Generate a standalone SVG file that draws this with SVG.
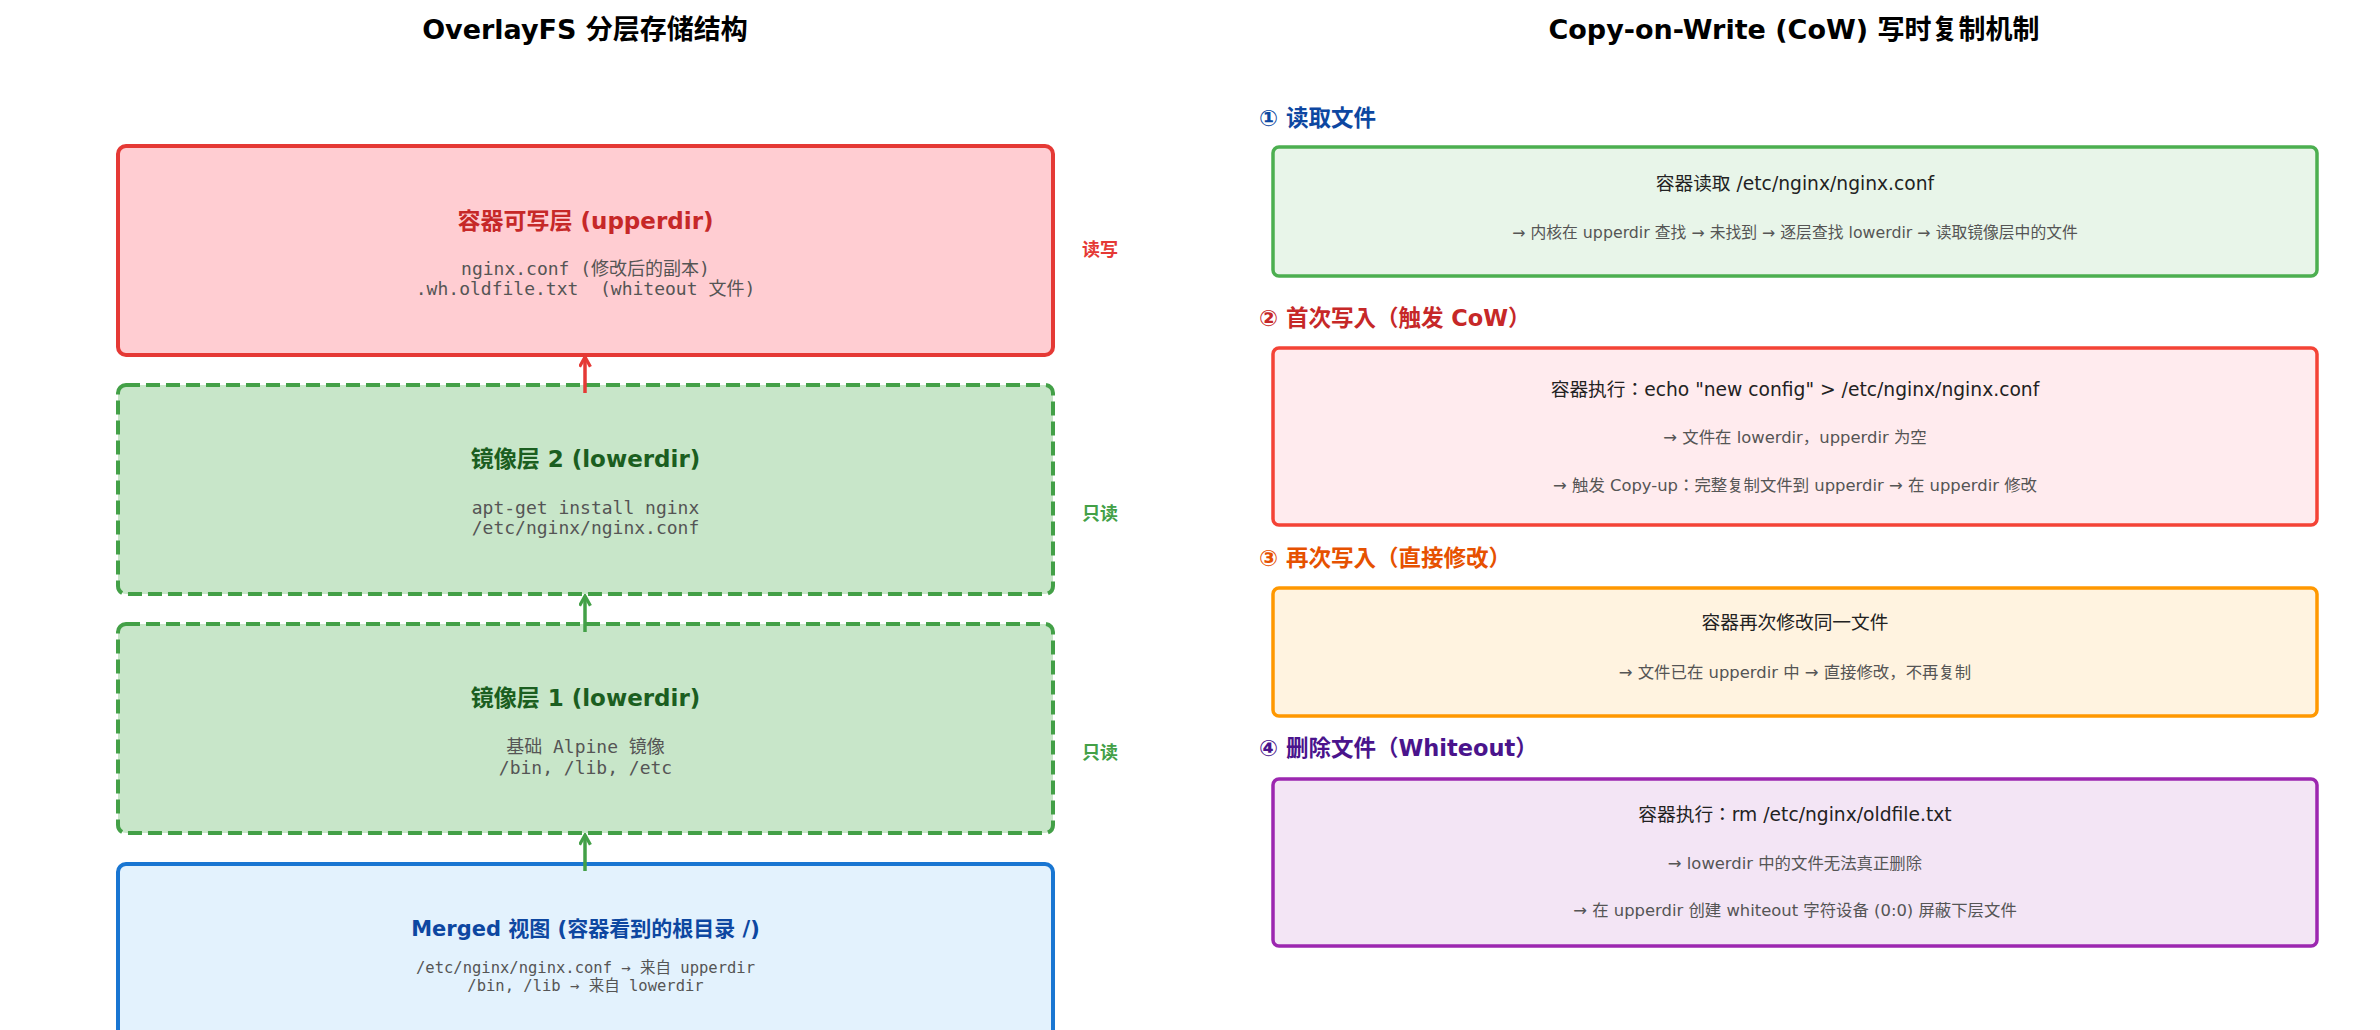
<svg xmlns="http://www.w3.org/2000/svg" width="2380" height="1030" viewBox="0 0 2380 1030">
<style>
text{font-family:"DejaVu Sans","Noto Sans CJK JP",sans-serif;text-anchor:middle;dominant-baseline:central}
.title{font-size:27px;font-weight:bold;fill:#000}
.lt{font-size:23px;font-weight:bold}
.lt2{font-size:21px;font-weight:bold}
.mono{font-family:"DejaVu Sans Mono","Noto Sans CJK JP",monospace;font-size:18px;fill:#555}
.mono2{font-family:"DejaVu Sans Mono","Noto Sans CJK JP",monospace;font-size:15.5px;fill:#555}
.side{font-size:18px;font-weight:bold;text-anchor:start}
.hd{font-size:22.5px;font-weight:bold;text-anchor:start}
.main{font-size:18.7px;fill:#222}
.sub{font-size:16.4px;fill:#555}
.lbox{stroke-width:4}
.rbox{stroke-width:3.5}
.dash{stroke-dasharray:14 6}
</style>
<defs>
<marker id="arR" viewBox="0 0 12 12" refX="10" refY="6" markerWidth="13" markerHeight="13" markerUnits="userSpaceOnUse" orient="auto">
<path d="M1,1 L10,6 L1,11" fill="none" stroke="#E53935" stroke-width="3"/>
</marker>
<marker id="arG" viewBox="0 0 12 12" refX="10" refY="6" markerWidth="13" markerHeight="13" markerUnits="userSpaceOnUse" orient="auto">
<path d="M1,1 L10,6 L1,11" fill="none" stroke="#43A047" stroke-width="3"/>
</marker>
</defs>
<rect width="2380" height="1030" fill="#fff"/>
<text class="title" x="585" y="29">OverlayFS 分层存储结构</text>
<text class="title" x="1794" y="29">Copy-on-Write (CoW) 写时复制机制</text>

<g id="upperdir">
<rect class="lbox" x="118" y="146" width="935" height="209" rx="8" fill="#FFCDD2" stroke="#E53935"/>
<text class="lt" x="585.5" y="221" fill="#C62828">容器可写层 (upperdir)</text>
<text class="mono" x="585.5" y="268">nginx.conf (修改后的副本)</text>
<text class="mono" x="585.5" y="288" xml:space="preserve">.wh.oldfile.txt  (whiteout 文件)</text>
<text class="side" x="1082" y="249" fill="#E53935">读写</text>
</g>
<g id="lower2">
<rect class="lbox dash" x="118" y="385" width="935" height="209" rx="8" fill="#C8E6C9" stroke="#43A047"/>
<text class="lt" x="585.5" y="459" fill="#1B5E20">镜像层 2 (lowerdir)</text>
<text class="mono" x="585.5" y="507">apt-get install nginx</text>
<text class="mono" x="585.5" y="527">/etc/nginx/nginx.conf</text>
<text class="side" x="1082" y="513" fill="#43A047">只读</text>
</g>
<g id="lower1">
<rect class="lbox dash" x="118" y="624" width="935" height="209" rx="8" fill="#C8E6C9" stroke="#43A047"/>
<text class="lt" x="585.5" y="698" fill="#1B5E20">镜像层 1 (lowerdir)</text>
<text class="mono" x="585.5" y="746">基础 Alpine 镜像</text>
<text class="mono" x="585.5" y="767">/bin, /lib, /etc</text>
<text class="side" x="1082" y="752" fill="#43A047">只读</text>
</g>
<g id="merged">
<rect class="lbox" x="118" y="864" width="935" height="209" rx="8" fill="#E3F2FD" stroke="#1976D2"/>
<text class="lt2" x="585.5" y="929" fill="#0D47A1">Merged 视图 (容器看到的根目录 /)</text>
<text class="mono2" x="585.5" y="968">/etc/nginx/nginx.conf → 来自 upperdir</text>
<text class="mono2" x="585.5" y="986">/bin, /lib → 来自 lowerdir</text>
</g>

<g id="connectors" fill="none" stroke-width="3.5">
<line x1="585" y1="393" x2="585" y2="357" stroke="#E53935" marker-end="url(#arR)"/>
<line x1="585" y1="632" x2="585" y2="596" stroke="#43A047" marker-end="url(#arG)"/>
<line x1="585" y1="871" x2="585" y2="835" stroke="#43A047" marker-end="url(#arG)"/>
</g>

<g id="step1">
<text class="hd" x="1259" y="118" fill="#0D47A1">① 读取文件</text>
<rect class="rbox" x="1273" y="147" width="1044" height="129" rx="6" fill="#E8F5E9" stroke="#4CAF50"/>
<text class="main" x="1795" y="183">容器读取 /etc/nginx/nginx.conf</text>
<text class="sub" x="1795" y="232" style="font-size:15.8px">→ 内核在 upperdir 查找 → 未找到 → 逐层查找 lowerdir → 读取镜像层中的文件</text>
</g>
<g id="step2">
<text class="hd" x="1259" y="318" fill="#C62828">② 首次写入（触发 CoW）</text>
<rect class="rbox" x="1273" y="348" width="1044" height="177" rx="6" fill="#FFEBEE" stroke="#F44336"/>
<text class="main" x="1795" y="389">容器执行：echo "new config" &gt; /etc/nginx/nginx.conf</text>
<text class="sub" x="1795" y="437">→ 文件在 lowerdir，upperdir 为空</text>
<text class="sub" x="1795" y="485">→ 触发 Copy-up：完整复制文件到 upperdir → 在 upperdir 修改</text>
</g>
<g id="step3">
<text class="hd" x="1259" y="558" fill="#E65100">③ 再次写入（直接修改）</text>
<rect class="rbox" x="1273" y="588" width="1044" height="128" rx="6" fill="#FFF3E0" stroke="#FF9800"/>
<text class="main" x="1795" y="622">容器再次修改同一文件</text>
<text class="sub" x="1795" y="672">→ 文件已在 upperdir 中 → 直接修改，不再复制</text>
</g>
<g id="step4">
<text class="hd" x="1259" y="748" fill="#4A148C">④ 删除文件（Whiteout）</text>
<rect class="rbox" x="1273" y="779" width="1044" height="167" rx="6" fill="#F3E5F5" stroke="#9C27B0"/>
<text class="main" x="1795" y="814">容器执行：rm /etc/nginx/oldfile.txt</text>
<text class="sub" x="1795" y="863">→ lowerdir 中的文件无法真正删除</text>
<text class="sub" x="1795" y="910">→ 在 upperdir 创建 whiteout 字符设备 (0:0) 屏蔽下层文件</text>
</g>
</svg>
